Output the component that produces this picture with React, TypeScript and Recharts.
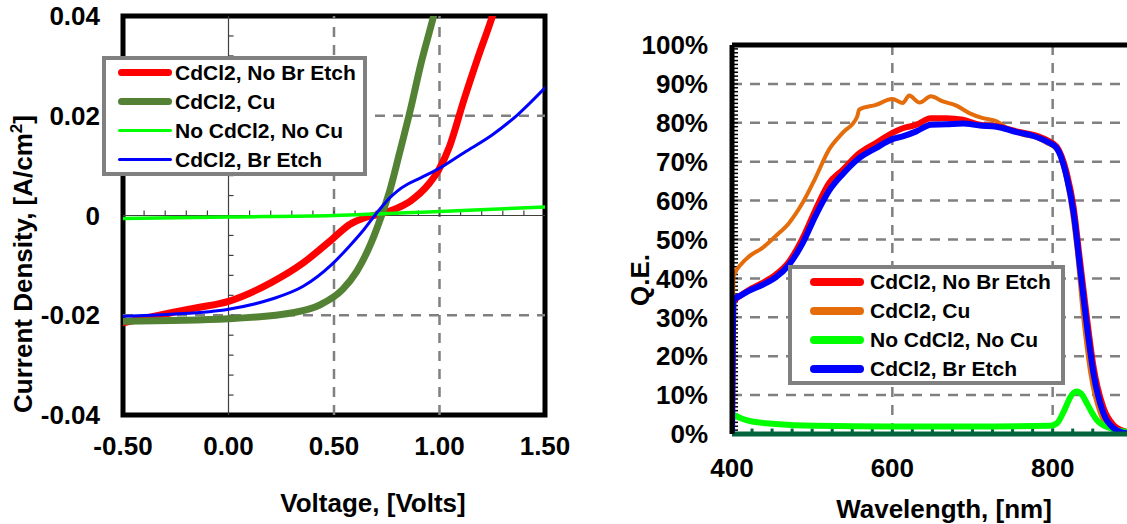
import { LineChart, Line, XAxis, YAxis, CartesianGrid, ReferenceLine, ReferenceArea, Legend } from 'recharts';

const FONT = '"Liberation Sans", Arial, sans-serif';

// series names (same four samples in both panels)
const seriesNames = ['CdCl2, No Br Etch', 'CdCl2, Cu', 'No CdCl2, No Cu', 'CdCl2, Br Etch'];

// J-V curves: [voltage (V), current density (A/cm2)]
const jvNoBrEtch: [number, number][] = [
  [-0.5, -0.0215], [-0.272, -0.0195], [-0.15, -0.0185], [0, -0.0172], [0.2, -0.0135], [0.354, -0.0095],
  [0.49, -0.0048], [0.574, -0.0018], [0.642, -0.0005], [0.71, 0.0002], [0.777, 0.0011], [0.862, 0.0029],
  [0.947, 0.0062], [0.997, 0.0092], [1.048, 0.0139], [1.116, 0.0232], [1.184, 0.0319], [1.251, 0.04], [1.3, 0.047],
];
const jvCu: [number, number][] = [
  [-0.5, -0.0212], [0, -0.0207], [0.304, -0.0195], [0.439, -0.0178], [0.541, -0.0148], [0.608, -0.0112],
  [0.676, -0.0055], [0.727, 0.0002], [0.761, 0.0045], [0.811, 0.0126], [0.862, 0.0212], [0.913, 0.0306],
  [0.972, 0.04], [1.0, 0.045],
];
const jvNoCdCl2: [number, number][] = [
  [-0.5, -0.0006], [0, -0.0003], [0.5, 0], [1.0, 0.0008], [1.5, 0.0017],
];
const jvBrEtch: [number, number][] = [
  [-0.5, -0.0202], [-0.272, -0.0198], [0, -0.0188], [0.202, -0.0168], [0.354, -0.0142], [0.49, -0.0098],
  [0.574, -0.0061], [0.642, -0.0028], [0.693, 0], [0.73, 0.0019], [0.761, 0.0034], [0.8, 0.0049],
  [0.85, 0.0063], [0.913, 0.0076], [0.997, 0.0094], [1.116, 0.0126], [1.251, 0.0162], [1.37, 0.0202], [1.5, 0.0256],
];

// QE curves: [wavelength (nm), QE (%)]
const qeNoBrEtch: [number, number][] = [
  [400, 0], [402, 34], [410, 35.5], [421, 37], [437.6, 38.8], [454, 40.9], [471, 44.3], [488, 50.3],
  [504, 57.6], [521, 64.5], [538, 67.9], [559, 72.2], [579.5, 74.8], [600, 77.4], [613, 78.6], [630, 79.5],
  [648, 81.2], [667, 81.2], [688, 80.8], [709, 79.5], [730, 79.1], [755, 77.8], [776, 76.9], [792.5, 75.6],
  [805, 73.9], [817.6, 67.1], [826, 58.5], [834, 44.8], [842.6, 30.2], [851, 17.3], [863, 7], [876, 2.3],
  [892, 0.6], [920, 0],
];
const qeCu: [number, number][] = [
  [400, 0], [402, 40.5], [412.5, 43.9], [421, 45.6], [437.6, 47.8], [454, 50.8], [471, 54.2], [487.7, 59.3],
  [504, 65.8], [521, 73.1], [538, 77.4], [556, 81.5], [558.7, 83.4], [579.5, 84.6], [600, 86.1], [613, 85.1],
  [621, 87], [634, 85.2], [648, 86.8], [663, 85.5], [680, 84.4], [696, 82.5], [713, 81.2], [730, 80.4],
  [746.5, 78.2], [763, 76.9], [780, 76.1], [792.5, 74.8], [805, 73.1], [813, 68.8], [821.7, 60.2], [830, 47.3],
  [838, 30.2], [847, 15.6], [859, 5.3], [872, 1.5], [892, 0.2], [920, 0],
];
const qeNoCdCl2: [number, number][] = [
  [401, 5], [412, 4], [425, 3.2], [454, 2.6], [504, 2.1], [600, 1.9], [696, 1.9], [797, 2.1], [805, 2.7],
  [815.6, 6.6], [822, 9.5], [830, 10.9], [837, 10], [842.6, 7.9], [855, 3.6], [872, 1.5], [892, 0.6], [920, 0.2],
];
const qeBrEtch: [number, number][] = [
  [400, 0], [402, 34.5], [410, 35.5], [421, 36.8], [437.6, 38.3], [454, 40.2], [471, 43.5], [488, 49],
  [504, 56], [521, 62.5], [538, 66.8], [559, 71], [579.5, 73.5], [600, 75.8], [613, 76.5], [630, 77.8],
  [648, 79.5], [667, 79.6], [688, 79.8], [709, 79.3], [730, 79], [755, 77.6], [776, 76.6], [792.5, 75.2],
  [805, 73.5], [817.6, 66], [826, 57], [834, 43], [842.6, 28], [851, 15.5], [863, 5.5], [876, 1.5],
  [892, 0.2], [920, 0],
];

// axis ticks
const voltTicks = [-0.5, 0, 0.5, 1.0, 1.5];
const currentTicks = [-0.04, -0.02, 0, 0.02, 0.04];
const voltMinorTicks = [-0.4, -0.3, -0.2, -0.1, 0.1, 0.2, 0.3, 0.4, 0.5, 0.6, 0.7, 0.8, 0.9, 1.0, 1.1, 1.2, 1.3, 1.4];
const currentMinorTicks = [
  -0.036, -0.032, -0.028, -0.024, -0.02, -0.016, -0.012, -0.008, -0.004,
  0.004, 0.008, 0.012, 0.016, 0.02, 0.024, 0.028, 0.032, 0.036,
];
// the panel is cropped on the right, so the 1000 nm label is out of view
const wavelengthTicks = [400, 600, 800];
const qeTicks = [0, 10, 20, 30, 40, 50, 60, 70, 80, 90, 100];
const wavelengthMinorTicks = Array.from({ length: 24 }, (_, i) => 425 + i * 25);
const qeMinorTicks = Array.from({ length: 99 }, (_, i) => i + 1);

const toJV = (pts: [number, number][]) => pts.map(([v, j]) => ({ v, j }));
const toQE = (pts: [number, number][]) => pts.map(([nm, qe]) => ({ nm, qe }));

const jvSeries = [
  { name: seriesNames[0], data: toJV(jvNoBrEtch), color: '#ff0000', width: 7 },
  { name: seriesNames[1], data: toJV(jvCu), color: '#548235', width: 7 },
  { name: seriesNames[2], data: toJV(jvNoCdCl2), color: '#00ff00', width: 3.5 },
  { name: seriesNames[3], data: toJV(jvBrEtch), color: '#0000ff', width: 3 },
];

const qeSeries = [
  { name: seriesNames[1], data: toQE(qeCu), color: '#e46c0a', width: 4 },
  { name: seriesNames[0], data: toQE(qeNoBrEtch), color: '#ff0000', width: 6 },
  { name: seriesNames[2], data: toQE(qeNoCdCl2), color: '#00ff00', width: 6 },
  { name: seriesNames[3], data: toQE(qeBrEtch), color: '#0000ff', width: 6 },
];
const qeLegend = [
  { name: seriesNames[0], color: '#ff0000', width: 8 },
  { name: seriesNames[1], color: '#e46c0a', width: 8 },
  { name: seriesNames[2], color: '#00ff00', width: 8 },
  { name: seriesNames[3], color: '#0000ff', width: 8 },
];

const tickStyle = { fill: '#000', fontSize: 26, fontWeight: 700, fontFamily: FONT };
const AXIS_GREEN = '#00643c';

type LegendItem = { name: string; color: string; width: number };

const LegendBox = ({ items, swatchLeft, gap }: { items: LegendItem[]; swatchLeft: number; gap: number }) => (
  <div
    style={{
      width: '100%', height: '100%', boxSizing: 'border-box', background: '#fff',
      border: '4px solid #808080', fontFamily: FONT, fontWeight: 700, fontSize: 21, color: '#000',
    }}
  >
    <div style={{ position: 'relative', top: -2 }}>
      {items.map((it) => (
        <div key={it.name} style={{ display: 'flex', alignItems: 'center', height: 29, whiteSpace: 'nowrap' }}>
          <span
            style={{
              display: 'inline-block', width: 54, height: it.width, background: it.color,
              borderRadius: it.width / 2, marginLeft: swatchLeft, marginRight: gap,
            }}
          />
          <span>{it.name}</span>
        </div>
      ))}
    </div>
  </div>
);

const JVChart = () => (
  <LineChart width={590} height={524} margin={{ top: 16, right: 45, bottom: 0, left: 23 }}>
    <XAxis
      type="number" dataKey="v" domain={[-0.5, 1.5]} ticks={voltTicks} allowDataOverflow interval={0}
      tickFormatter={(v: number) => v.toFixed(2)} axisLine={false} tickLine={false} tickSize={0}
      tickMargin={22} height={109} tick={tickStyle}
    />
    <YAxis
      type="number" domain={[-0.04, 0.04]} ticks={currentTicks} allowDataOverflow interval={0}
      tickFormatter={(v: number) => (v === 0 ? '0' : v.toFixed(2))} axisLine={false} tickLine={false}
      tickSize={0} tickMargin={23} width={100} tick={tickStyle}
    />
    <ReferenceLine x={0.5} stroke="#808080" strokeWidth={2.5} strokeDasharray="10 8" />
    <ReferenceLine x={1.0} stroke="#808080" strokeWidth={2.5} strokeDasharray="10 8" />
    <ReferenceLine y={0.02} stroke="#808080" strokeWidth={2.5} strokeDasharray="10 8" />
    <ReferenceLine y={-0.02} stroke="#808080" strokeWidth={2.5} strokeDasharray="10 8" />
    <ReferenceLine x={0} stroke="#404040" strokeWidth={1.2} />
    <ReferenceLine y={0} stroke="#404040" strokeWidth={1.2} />
    {voltMinorTicks.map((v) => (
      <ReferenceLine key={'vt' + v} segment={[{ x: v, y: 0 }, { x: v, y: 0.001 }]} stroke="#404040" strokeWidth={1.2} />
    ))}
    {currentMinorTicks.map((j) => (
      <ReferenceLine key={'jt' + j} segment={[{ x: 0, y: j }, { x: 0.024, y: j }]} stroke="#404040" strokeWidth={1.2} />
    ))}
    <ReferenceArea x1={-0.5} x2={1.5} y1={-0.04} y2={0.04} fill="none" stroke="#000" strokeWidth={5} />
    {jvSeries.map((s) => (
      <Line
        key={s.name} data={s.data} dataKey="j" name={s.name} type="monotone" stroke={s.color}
        strokeWidth={s.width} dot={false} isAnimationActive={false} strokeLinecap="round" strokeLinejoin="round"
      />
    ))}
    <Legend
      layout="horizontal" verticalAlign="middle" align="center"
      wrapperStyle={{ left: 102, top: 56, width: 265, height: 120 }}
      content={() => <LegendBox items={jvSeries} swatchLeft={12} gap={3} />}
    />
  </LineChart>
);

const QEChart = () => (
  <LineChart width={650} height={524} margin={{ top: 45, right: 27, bottom: 0, left: 42 }}>
    <CartesianGrid stroke="#808080" strokeWidth={2.5} strokeDasharray="10 8" />
    <XAxis
      type="number" dataKey="nm" domain={[400, 1000]} ticks={wavelengthTicks} allowDataOverflow interval={0}
      axisLine={false} tickLine={false} tickSize={0} tickMargin={25} height={90} tick={tickStyle}
    />
    <YAxis
      type="number" domain={[0, 100]} ticks={qeTicks} allowDataOverflow interval={0}
      tickFormatter={(v: number) => `${v}%`} axisLine={false} tickLine={false} tickSize={0}
      tickMargin={24} width={100} tick={tickStyle}
    />
    {/* minor tick marks pointing into the plot */}
    {qeMinorTicks.map((q) => (
      <ReferenceLine key={'qt' + q} segment={[{ x: 400, y: q }, { x: 407.5, y: q }]} stroke="#000" strokeWidth={1.5} />
    ))}
    {wavelengthMinorTicks.map((w) => (
      <ReferenceLine key={'wt' + w} segment={[{ x: w, y: 0 }, { x: w, y: 1.4 }]} stroke={AXIS_GREEN} strokeWidth={3} />
    ))}
    <ReferenceLine y={100} stroke="#000" strokeWidth={5} />
    {qeSeries.map((s) => (
      <Line
        key={s.name} data={s.data} dataKey="qe" name={s.name} type="monotone" stroke={s.color}
        strokeWidth={s.width} dot={false} isAnimationActive={false} strokeLinejoin="round"
      />
    ))}
    <ReferenceLine y={0} stroke={AXIS_GREEN} strokeWidth={5} />
    <ReferenceLine x={400} stroke="#000" strokeWidth={5} />
    <Legend
      layout="horizontal" verticalAlign="middle" align="center"
      wrapperStyle={{ left: 198, top: 265, width: 277, height: 120 }}
      content={() => <LegendBox items={qeLegend} swatchLeft={18} gap={6} />}
    />
  </LineChart>
);

const titleStyle = { fontFamily: FONT, fontWeight: 700, fontSize: 26, fill: '#000' };

export default function App() {
  return (
    <div style={{ position: 'fixed', left: 0, top: 0, width: 1127, height: 524, overflow: 'hidden', background: '#fff' }}>
      <div style={{ position: 'absolute', left: 0, top: 0 }}>
        <JVChart />
      </div>
      <div style={{ position: 'absolute', left: 590, top: 0 }}>
        <QEChart />
      </div>
      <svg width={1127} height={524} style={{ position: 'absolute', left: 0, top: 0, pointerEvents: 'none' }}>
        <text x={373} y={512} textAnchor="middle" {...titleStyle}>Voltage, [Volts]</text>
        <text x={32} y={264} textAnchor="middle" transform="rotate(-90 32 264)" {...titleStyle}>
          Current Density, [A/cm<tspan dy={-10} fontSize={17}>2</tspan><tspan dy={10}>]</tspan>
        </text>
        <text x={944} y={518} textAnchor="middle" {...titleStyle}>Wavelength, [nm]</text>
        <text x={649} y={280} textAnchor="middle" transform="rotate(-90 649 280)" {...titleStyle}>Q.E.</text>
      </svg>
    </div>
  );
}
